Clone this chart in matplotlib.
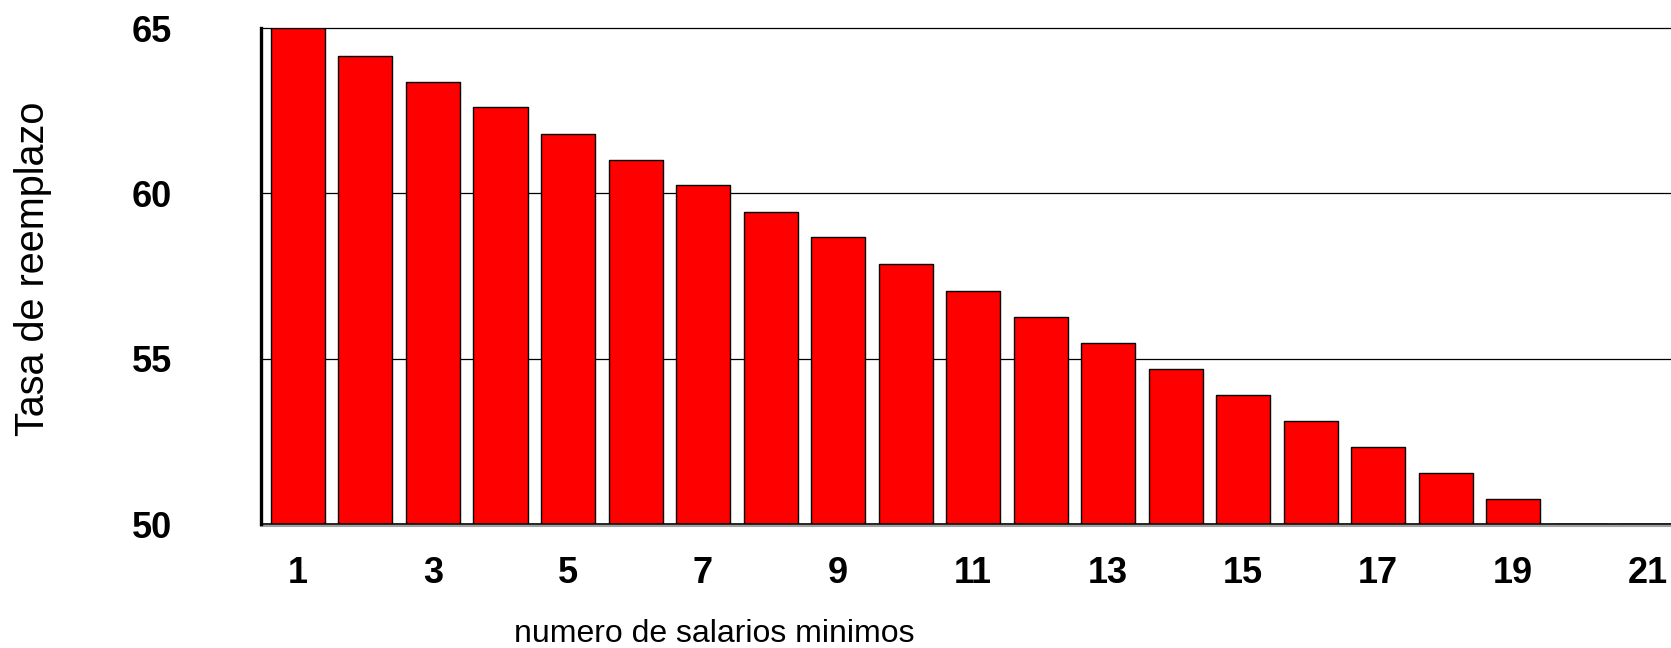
import matplotlib
matplotlib.use("Agg")
import matplotlib.pyplot as plt
import matplotlib.transforms as mtransforms

plt.rcParams['font.family'] = ['Liberation Sans', 'DejaVu Sans']

categories = list(range(1, 22))
tasa = [65.0, 64.15, 63.38, 62.6, 61.8, 61.02, 60.25, 59.45, 58.67, 57.85,
        57.06, 56.27, 55.48, 54.68, 53.9, 53.12, 52.33, 51.55, 50.75, 50.0, 50.0]
xtick_labels = [str(c) for c in categories[::2]]
yticks = [50, 55, 60, 65]

W, H = 1671, 648
fig = plt.figure(figsize=(W / 100, H / 100), dpi=100)
left_px, right_px, top_px, bottom_px = 261, 1671, 28, 524
ax = fig.add_axes([left_px / W, 1 - bottom_px / H,
                   (right_px - left_px) / W, (bottom_px - top_px) / H])

ax.bar(categories, tasa, width=0.8, color='#FF0000', edgecolor='black',
       linewidth=1.0, zorder=3)

ax.set_ylim(50, 65)
ax.set_xlim(0.452, 21.34)
ax.set_yticks(yticks)
ax.set_yticklabels([str(v) for v in yticks], fontsize=26, fontweight='bold')
ax.set_xticks(categories[::2])
ax.set_xticklabels(xtick_labels, fontsize=26, fontweight='bold')
ax.tick_params(axis='both', length=0)
ax.tick_params(axis='y', pad=64)
ax.tick_params(axis='x', pad=23)

for v in [55, 60, 65]:
    ax.axhline(v, color='black', linewidth=0.9, zorder=1, clip_on=False)

for s in ['top', 'right']:
    ax.spines[s].set_visible(False)
ax.spines['left'].set_linewidth(2.4)
ax.spines['left'].set_color('black')
ax.spines['left'].set_zorder(5)
ax.spines['bottom'].set_linewidth(1.2)
ax.spines['bottom'].set_color('black')
ax.spines['bottom'].set_zorder(5)

# grey shadow beneath the bottom axis
shadow = mtransforms.offset_copy(ax.transAxes, fig=fig, x=0, y=-2, units='dots')
ax.plot([0, 1], [0, 0], transform=shadow, color='#a0a0a0', linewidth=1.5,
        clip_on=False, zorder=4)

fig.text(33 / W, 1 - 269 / H, 'Tasa de reemplazo', fontsize=28.5,
         rotation=90, ha='center', va='center')
fig.text(714 / W, 1 - 634 / H, 'numero de salarios minimos', fontsize=23,
         ha='center', va='center')

fig.savefig('out.png', dpi=100)
